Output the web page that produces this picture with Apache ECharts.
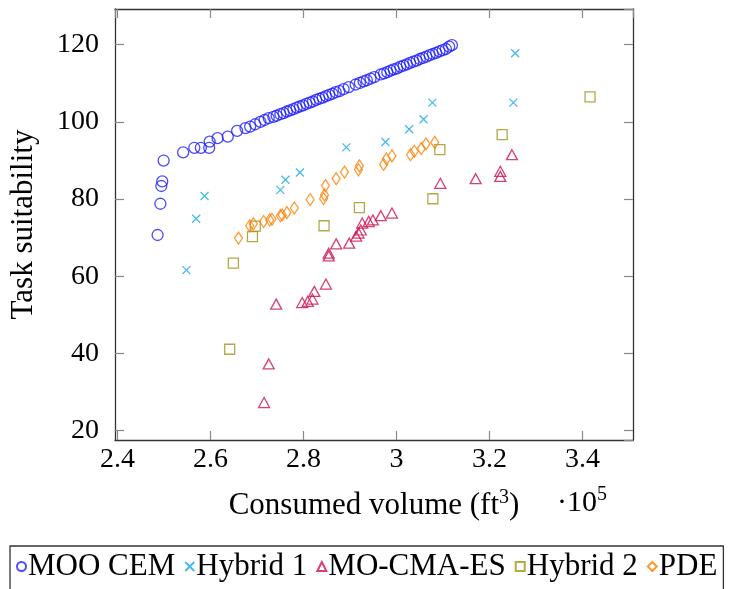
<!DOCTYPE html>
<html>
<head>
<meta charset="utf-8">
<script src="https://cdn.jsdelivr.net/npm/echarts@6/dist/echarts.min.js"></script>
<style>
  html, body { margin: 0; padding: 0; background: #fff; }
  #chart { width: 731px; height: 589px; }
</style>
</head>
<body>
<div id="chart"></div>
<script>
// Consumed volume in units of 1e5 ft^3, paired with task suitability.
const mooCem = [
  [2.486, 70.7], [2.492, 78.8], [2.494, 83.4], [2.496, 84.6], [2.499, 90.0],
  [2.541, 92.1], [2.565, 93.3], [2.579, 93.3], [2.597, 93.3], [2.598, 94.9],
  [2.615, 95.8], [2.637, 96.2], [2.657, 97.7], [2.675, 98.4], [2.685, 98.8],
  [2.696, 99.4], [2.707, 100.0], [2.716, 100.5], [2.725, 101.0], [2.735, 101.3],
  [2.742, 101.6], [2.750, 102.0], [2.757, 102.3], [2.764, 102.7], [2.771, 103.0],
  [2.778, 103.3], [2.785, 103.7], [2.792, 104.0], [2.799, 104.3], [2.806, 104.7],
  [2.813, 105.0], [2.820, 105.3], [2.827, 105.7], [2.834, 106.0], [2.841, 106.3],
  [2.848, 106.7], [2.855, 107.0], [2.862, 107.3], [2.869, 107.7], [2.877, 108.0],
  [2.886, 108.5], [2.897, 109.0], [2.912, 109.7], [2.921, 110.1], [2.929, 110.5],
  [2.936, 110.8], [2.944, 111.2], [2.952, 111.6], [2.966, 112.3], [2.973, 112.6],
  [2.980, 112.9], [2.987, 113.3], [2.994, 113.6], [3.001, 113.9], [3.008, 114.3],
  [3.015, 114.6], [3.022, 114.9], [3.029, 115.3], [3.036, 115.6], [3.043, 115.9],
  [3.050, 116.3], [3.057, 116.6], [3.064, 116.9], [3.071, 117.3], [3.078, 117.6],
  [3.085, 117.9], [3.092, 118.3], [3.099, 118.6], [3.106, 118.9], [3.113, 119.5],
  [3.119, 119.9]
];
const hybrid1 = [
  [2.548, 61.6], [2.569, 74.9], [2.587, 80.8], [2.750, 82.4], [2.761, 85.0],
  [2.792, 86.9], [2.892, 93.4], [2.976, 94.8], [3.027, 98.1], [3.058, 100.7],
  [3.077, 105.0], [3.251, 105.0], [3.255, 117.8]
];
const moCmaEs = [
  [2.715, 27.3], [2.725, 37.3], [2.741, 52.8], [2.797, 53.2], [2.809, 53.5],
  [2.819, 54.1], [2.823, 56.1], [2.848, 58.0], [2.854, 65.3], [2.854, 66.0],
  [2.870, 68.4], [2.898, 68.6], [2.913, 70.4], [2.918, 71.2], [2.923, 72.0],
  [2.926, 73.8], [2.940, 74.2], [2.949, 74.6], [2.966, 75.7], [2.990, 76.4],
  [3.094, 84.1], [3.170, 85.3], [3.223, 85.9], [3.223, 87.2], [3.248, 91.5]
];
const hybrid2 = [
  [2.641, 41.1], [2.649, 63.4], [2.690, 70.3], [2.696, 73.0], [2.844, 73.1],
  [2.920, 77.8], [3.078, 80.1], [3.093, 92.8], [3.227, 96.7], [3.416, 106.5]
];
const pde = [
  [2.660, 69.9], [2.684, 73.1], [2.692, 73.6], [2.714, 74.2], [2.727, 74.6],
  [2.732, 74.8], [2.750, 75.7], [2.754, 75.9], [2.764, 76.5], [2.780, 77.7],
  [2.814, 79.9], [2.843, 80.1], [2.845, 81.1], [2.847, 83.5], [2.870, 85.3],
  [2.888, 87.0], [2.918, 87.6], [2.920, 88.6], [2.972, 89.0], [2.978, 90.4],
  [2.990, 91.2], [3.030, 91.5], [3.038, 92.4], [3.053, 93.1], [3.063, 94.3],
  [3.082, 94.7]
];

const seriesNames = ['MOO CEM', 'Hybrid 1', 'MO-CMA-ES', 'Hybrid 2', 'PDE'];
const xRange = [2.3944, 3.5084];
const yRange = [17.59, 129.26];

const FONT = 'Liberation Serif';
const crossPath = 'path://M0,0L10,10M10,0L0,10';

function scatter(name, data, symbol, size, color) {
  return {
    name: name,
    type: 'scatter',
    data: data,
    symbol: symbol,
    symbolSize: size,
    itemStyle: { color: 'rgba(0,0,0,0)', borderColor: color, borderWidth: 1.3 },
    emphasis: { disabled: true },
    xAxisIndex: 0,
    yAxisIndex: 0
  };
}

const frame = { show: true, onZero: false, lineStyle: { color: '#333', width: 1.3 } };
const tick = { show: true, inside: true, length: 9, lineStyle: { color: '#888', width: 1.2 } };

const chart = echarts.init(document.getElementById('chart'));
chart.setOption({
  animation: false,
  backgroundColor: '#fff',
  grid: { left: 115, right: 98, top: 9, bottom: 149, containLabel: false },
  xAxis: [
    {
      type: 'value', position: 'bottom', min: xRange[0], max: xRange[1],
      axisLine: frame, axisTick: tick, splitLine: { show: false },
      axisLabel: {
        fontFamily: FONT, fontSize: 28, color: '#000', margin: 6,
        showMinLabel: false, showMaxLabel: false,
        formatter: v => String(+v.toFixed(1))
      },
      name: 'Consumed volume (ft{sup|3})', nameLocation: 'middle', nameGap: 48,
      nameTextStyle: {
        fontFamily: FONT, fontSize: 31, color: '#000', lineHeight: 36,
        rich: { sup: { fontFamily: FONT, fontSize: 20, color: '#000', verticalAlign: 'top', lineHeight: 36 } }
      }
    },
    {
      type: 'value', position: 'top', min: xRange[0], max: xRange[1],
      axisLine: frame, axisTick: tick, axisLabel: { show: false }, splitLine: { show: false }
    }
  ],
  yAxis: [
    {
      type: 'value', position: 'left', min: yRange[0], max: yRange[1],
      axisLine: frame, axisTick: tick, splitLine: { show: false },
      axisLabel: {
        fontFamily: FONT, fontSize: 28, color: '#000', margin: 16,
        showMinLabel: false, showMaxLabel: false
      },
      name: 'Task suitability', nameLocation: 'middle', nameGap: 76, nameRotate: 90,
      nameTextStyle: { fontFamily: FONT, fontSize: 31, color: '#000' }
    },
    {
      type: 'value', position: 'right', min: yRange[0], max: yRange[1],
      axisLine: frame, axisTick: tick, axisLabel: { show: false }, splitLine: { show: false }
    }
  ],
  legend: {
    data: seriesNames,
    left: 10, top: 546,
    orient: 'horizontal',
    itemWidth: 9, itemHeight: 9, itemGap: 9,
    padding: [5, 6, 12, 6],
    borderColor: '#333', borderWidth: 1.3,
    selectedMode: false,
    textStyle: { fontFamily: FONT, fontSize: 31, color: '#000', padding: [0, 0, 0, -3] }
  },
  graphic: [
    {
      type: 'text', left: 557, top: 485,
      style: {
        text: '·10{sup|5}',
        fontFamily: FONT, fontSize: 30, fill: '#000', lineHeight: 36,
        rich: { sup: { fontFamily: FONT, fontSize: 20, fill: '#000', verticalAlign: 'top', lineHeight: 36 } }
      }
    }
  ],
  series: [
    scatter(seriesNames[0], mooCem, 'circle', 11, '#1f1fff'),
    scatter(seriesNames[1], hybrid1, crossPath, 8, '#1aa8e8'),
    scatter(seriesNames[2], moCmaEs, 'triangle', [11, 10], '#cc1152'),
    scatter(seriesNames[3], hybrid2, 'rect', 10, '#a0941a'),
    scatter(seriesNames[4], pde, 'diamond', [8, 12], '#ff8000')
  ]
});
</script>
</body>
</html>
